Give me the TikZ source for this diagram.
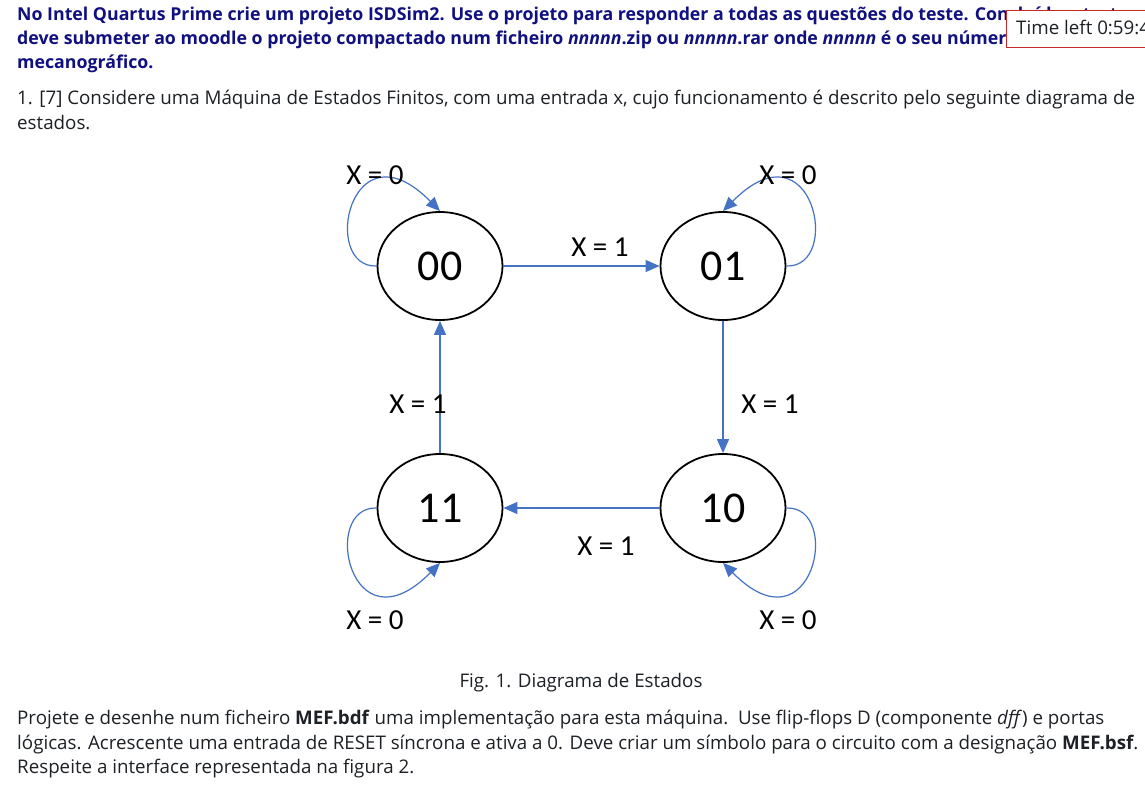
\documentclass[tikz,border=0pt]{standalone}
\usepackage{fontspec}
\setmainfont{Open Sans}
\newfontfamily\calib{Carlito}
\usetikzlibrary{arrows.meta,shapes.geometric}
\definecolor{navytxt}{RGB}{16,16,128}
\definecolor{bodytxt}{RGB}{29,33,37}
\definecolor{arrblue}{RGB}{68,114,196}
\definecolor{boxred}{RGB}{200,40,40}
\begin{document}
\begin{tikzpicture}[x=1pt,y=-1pt,
 state/.style={ellipse,draw=black,line width=1.8pt,minimum width=125pt,minimum height=108pt,inner sep=0pt,font=\calib\fontsize{44}{44}\selectfont},
 arr/.style={draw=arrblue,line width=1.2pt,-{Triangle[length=14pt,width=12pt]}},
 lbl/.style={font=\calib\fontsize{29}{29}\selectfont,inner sep=0pt},
 txt/.style={anchor=base west,inner sep=0pt,font=\fontsize{18.75}{24}\selectfont,text=bodytxt},
 hdr/.style={anchor=base west,inner sep=0pt,font=\bfseries\fontsize{17.75}{24}\selectfont,text=navytxt},
 timebox/.style={draw=boxred,line width=1pt,fill=white,anchor=north west,inner sep=0pt,minimum height=37pt,minimum width=170pt}]
\fill[white] (0,0) rectangle (1145,784);
\useasboundingbox (0,0) rectangle (1145,784);
\clip (0,0) rectangle (1145,784);
% header
\node[hdr] (h1) at (17,21) {No Intel Quartus Prime crie um projeto ISDSim2. Use o projeto para responder a todas as questões do teste. Concluído o teste};
\node[hdr] (h2) at (17,45) {deve submeter ao moodle o projeto compactado num ficheiro \textit{nnnnn}.zip ou \textit{nnnnn}.rar onde \textit{nnnnn} é o seu número};
\node[hdr] (h3) at (17,69) {mecanográfico.};
\node[timebox] (tl) at (1006,10) {};
\node[txt] (tlt) at (1016,35) {Time left 0:59:4};
% question
\node[txt] (q1) at (17,104) {1. [7] Considere uma Máquina de Estados Finitos, com uma entrada x, cujo funcionamento é descrito pelo seguinte diagrama de};
\node[txt] (q2) at (17,129) {estados.};
% states
\node[state] (s00) at (440,266) {00};
\node[state] (s01) at (723,266) {01};
\node[state] (s10) at (723,508) {10};
\node[state] (s11) at (440,508) {11};
% transitions
\draw[arr] (s00.east) -- (s00.east -| s01.west);
\draw[arr] (s01.south) -- (s10.north);
\draw[arr] (s10.west) -- (s10.west -| s11.east);
\draw[arr] (s11.north) -- (s00.south);
\draw[arr] (s00.west) .. controls (320,268) and (350,120) .. (s00.north);
\draw[arr] (s01.east) .. controls (843,268) and (813,120) .. (s01.north);
\draw[arr] (s11.west) .. controls (320,506) and (350,654) .. (s11.south);
\draw[arr] (s10.east) .. controls (843,506) and (813,654) .. (s10.south);
% labels
\node[lbl] (l0001) at (600,247) {X = 1};
\node[lbl] (l0110) at (770,404) {X = 1};
\node[lbl] (l1011) at (606,546) {X = 1};
\node[lbl] (l1100) at (418,404) {X = 1};
\node[lbl] (l00) at (375,175) {X = 0};
\node[lbl] (l01) at (788,175) {X = 0};
\node[lbl] (l11) at (375,620) {X = 0};
\node[lbl] (l10) at (788,620) {X = 0};
% caption
\node[txt,anchor=base] (cap) at (581,687) {Fig. 1. Diagrama de Estados};
% bottom text
\node[txt] (b1) at (17,724) {Projete e desenhe num ficheiro \textbf{MEF.bdf} uma implementação para esta máquina.\ \ Use flip-flops D (componente \textit{dff}) e portas};
\node[txt] (b2) at (17,749) {lógicas. Acrescente uma entrada de RESET síncrona e ativa a 0. Deve criar um símbolo para o circuito com a designação \textbf{MEF.bsf}.};
\node[txt] (b3) at (17,773) {Respeite a interface representada na figura 2.};
\end{tikzpicture}
\end{document}
